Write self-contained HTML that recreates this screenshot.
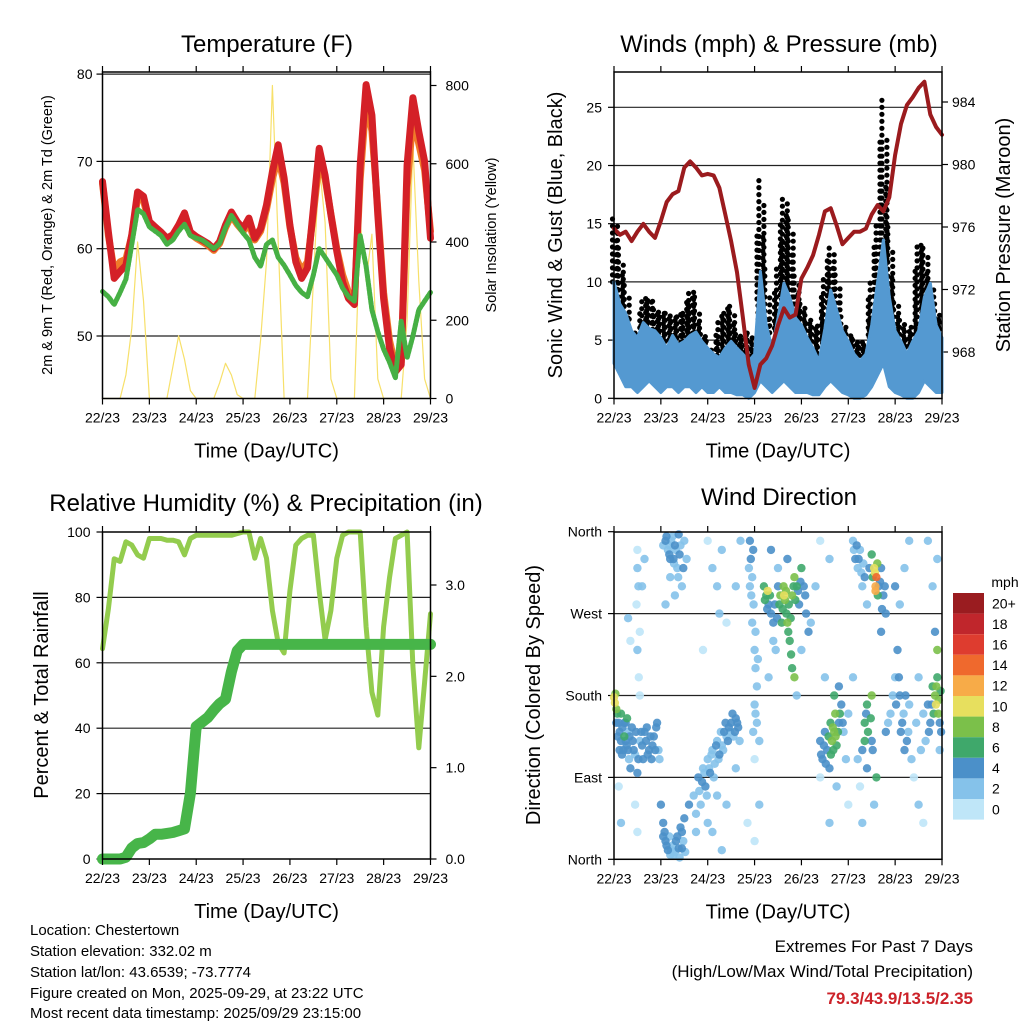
<!DOCTYPE html>
<html><head><meta charset="utf-8"><style>
html,body{margin:0;padding:0;background:#fff;}
svg{display:block;font-family:"Liberation Sans",Arial,sans-serif;}
</style></head><body>
<svg id="chart" width="1024" height="1024" viewBox="0 0 1024 1024" xmlns="http://www.w3.org/2000/svg">
<rect x="0" y="0" width="1024" height="1024" fill="#fff"/>
<g id="g-temp"></g>
<g id="g-wind"></g>
<g id="g-rh"></g>
<g id="g-wd"></g>
<g id="g-cb"></g>
<g font-size="15" fill="#000">
<text x="30" y="935">Location: Chestertown</text>
<text x="30" y="956">Station elevation: 332.02 m</text>
<text x="30" y="977">Station lat/lon: 43.6539; -73.7774</text>
<text x="30" y="998">Figure created on Mon, 2025-09-29, at 23:22 UTC</text>
<text x="30" y="1018">Most recent data timestamp: 2025/09/29 23:15:00</text>
</g>
<g text-anchor="end">
<text x="973" y="952" font-size="17">Extremes For Past 7 Days</text>
<text x="973" y="977" font-size="17">(High/Low/Max Wind/Total Precipitation)</text>
<text x="973" y="1004" font-size="17" font-weight="bold" fill="#cc2229">79.3/43.9/13.5/2.35</text>
</g>
</svg>
<script>
// ---------- DATA (3-hourly, 57 samples across 7 days) ----------
const dayLabels = ["22/23","23/23","24/23","25/23","26/23","27/23","28/23","29/23"];
const temp2m = [67.7,61.9,56.6,57.4,58.1,61.6,66.5,66,63.1,62.5,61.9,61.2,61.6,62.7,64.1,61.9,61.4,61.0,60.6,60.0,60.8,62.7,64.2,63.1,62.3,63.5,61.2,62.3,65.0,68.8,71.9,68.1,62.7,58.5,56.6,57.8,64.6,71.5,68.4,63.9,59.7,56.2,54.3,53.6,69.6,78.8,75.3,63.9,54.3,48.6,45.9,46.7,69.6,77.3,73.4,70,61.2];
const temp9m = [67.5,61.5,57.5,58.5,58.8,61.5,65.8,65.5,62.9,62.3,61.7,61.0,61.4,62.5,63.8,61.7,61.2,60.8,60.4,59.8,60.6,62.4,63.8,62.8,62.0,62.8,61.0,62.0,64.5,68.0,70.5,67.5,62.5,59.0,57.5,58.5,64.0,70.0,68.0,64.0,60.0,57.0,55.0,54.0,68.0,77.0,73.5,64.5,55.0,49.5,46.5,47.0,67.0,75.0,72.0,69.0,62.0];
const dewpoint = [55.1,54.5,53.6,55,56.5,60.5,64.5,64,62.5,62,61.5,60.5,61,62,62.8,61.5,61.2,61,60.5,60,60.6,62.4,63.8,62.8,61.8,61,59,58,60.5,61,59,58.1,57,55.8,55,54.5,57,60,59,58,57,55.5,54.5,54,61.5,58,53,50.5,48.5,47,45.2,51.7,47.5,50,53,54,55];
const solar = [0,0,0,0,60,180,400,250,0,0,0,0,80,160,100,20,0,0,0,0,40,90,60,10,0,0,0,150,350,800,400,0,0,0,0,0,300,600,450,50,0,0,0,0,450,300,420,50,0,0,0,0,200,650,300,50,0];
const tempTicks = [50,60,70,80];
const solarTicks = [0,200,400,600,800];

const windHigh = [10.0,8.1,7.3,5.8,5.2,6.5,6.0,5.8,5.2,4.3,5.4,4.6,4.9,5.4,5.7,4.9,4.3,3.8,3.5,4.3,4.9,4.3,3.8,3.2,3.8,10.9,6.3,4.3,6.9,9.9,8.7,6.9,6.3,5.2,4.3,3.2,6.0,9.3,7.6,5.8,4.9,3.8,3.2,3.8,6.3,10.0,13.6,8.7,5.8,4.9,3.8,4.9,5.8,8.7,9.9,6.3,5.2];
const windLow = [3,2,1,1,0.5,1,1.5,1,0.5,1,1,0.5,1,1,0.5,1,0.5,0.5,1,0.5,0.5,0.3,0.3,0,0.5,1.5,1,0.5,1,1.5,1,0.5,0.5,0.5,0.3,0.3,1,1.5,1,0.5,0.3,0,0,0.3,1,2,3,1,0.5,0.3,0,0,0.5,1.5,1,0.5,0.5];
const gustMax = [15.7,12.9,10.0,5.8,5.5,8.7,8.7,8.1,7.3,7.3,6.9,7.3,7.6,9.3,8.7,5.8,4.9,4.3,6.6,7.3,8.4,5.8,5.2,5.8,4.3,19.2,11.5,4.6,11.5,17.4,15.7,11.0,8.4,6.9,6.3,6.3,10.3,13.2,11.0,7.0,5.2,5.5,4.9,4.9,10.3,14.9,26.2,14.9,8.7,6.9,5.5,6.3,13.2,13.2,10.3,8.4,6.3];
const pressure = [975.9,975.5,975.7,975.1,975.7,976.2,975.7,975.3,976.4,977.6,978.1,978.3,979.8,980.2,979.8,979.3,979.4,979.3,978.5,976.8,975.1,973.1,970.2,967.2,965.7,967.2,967.6,968.4,969.7,970.8,970.2,970.4,972.7,973.4,974.2,975.5,977.0,977.2,976.1,974.9,975.3,975.7,975.7,975.9,976.8,977.4,977.0,977.9,980.6,982.6,983.8,984.3,984.9,985.3,983.2,982.4,981.9];
const windTicks = [0,5,10,15,20,25];
const pressTicks = [968,972,976,980,984];

const humidity = [64.3,76.5,91.8,91,97,96,93,92,98,98,98,97.5,97.5,97,93,98,99,99,99,99,99,99,99,99.5,100,100,92,98,92,76,66,63,82,96,98,99,99,82,67,76,92,99,100,100,100,71,51,44,71,86,98,99,100,59,34,54,75];
const precip = [0,0,0,0,0.02,0.12,0.17,0.18,0.22,0.27,0.27,0.28,0.29,0.31,0.33,0.72,1.45,1.5,1.55,1.63,1.7,1.75,2.05,2.28,2.35,2.35,2.35,2.35,2.35,2.35,2.35,2.35,2.35,2.35,2.35,2.35,2.35,2.35,2.35,2.35,2.35,2.35,2.35,2.35,2.35,2.35,2.35,2.35,2.35,2.35,2.35,2.35,2.35,2.35,2.35,2.35,2.35];
const rhTicks = [0,20,40,60,80,100];
const precipTicks = [0,1,2,3];

const dirTicks = [0,90,180,270,360];
const dirLabels = ["North","East","South","West","North"];
const speedBins = ["0","2","4","6","8","10","12","14","16","18","20+"];
const speedColors = ["#bfe6f8","#85c2ea","#4b90c9","#3fa86b","#7bc04a","#e7df5e","#f7ab48","#ef692d","#de3c2f","#c0262c","#9a1c20"];
// [day, direction deg, speed mph]
const wdObs = [
[0.0,178,9],[0.02,172,10],[0.03,182,8],[0.05,165,7],[0.07,160,5],[0.1,150,4],[0.12,140,4],[0.15,130,3],[0.18,145,4],[0.2,120,3],[0.22,135,5],[0.25,150,4],[0.27,125,3],[0.3,140,2],[0.32,110,2],[0.35,100,4],[0.4,130,3],[0.45,115,2],[0.5,95,4],[0.55,130,2],[0.6,125,3],[0.65,140,4],[0.7,145,3],[0.75,120,4],[0.8,110,3],[0.85,135,4],[0.9,145,4],[0.95,120,2],[0.15,160,6],[0.28,155,6],
[0.05,150,4],[0.08,135,4],[0.12,120,3],[0.17,115,4],[0.22,150,3],[0.25,130,4],[0.3,120,4],[0.33,135,3],[0.38,145,4],[0.42,120,4],[0.47,140,3],[0.52,110,3],[0.58,140,4],[0.62,110,4],[0.68,130,3],[0.72,115,4],[0.78,135,4],[0.82,125,4],[0.88,120,3],[0.92,150,4],[0.97,110,2],
[0.5,340,0],[0.5,320,1],[0.52,300,1],[0.48,280,0],[0.55,250,0],[0.5,230,1],[0.53,200,0],[0.55,180,0],[0.6,300,2],[0.65,330,2],[0.1,80,0],[0.15,40,1],[0.45,60,0],[0.5,30,0],[0.3,265,1],[0.35,240,0],
[1.1,350,3],[1.15,340,2],[1.2,330,4],[1.25,355,2],[1.3,345,3],[1.35,320,2],[1.4,335,3],[1.45,300,2],[1.2,310,2],[1.3,290,1],[1.5,350,1],[1.55,330,2],[1.1,280,1],[1.38,357,4],[1.18,345,2],[1.28,325,2],
[1.05,345,2],[1.12,355,3],[1.18,335,4],[1.22,350,2],[1.27,330,3],[1.32,340,2],[1.37,310,2],[1.42,345,2],[1.48,320,3],
[1.0,60,4],[1.05,40,4],[1.1,20,4],[1.15,10,3],[1.2,5,2],[1.25,15,2],[1.3,8,2],[1.35,25,4],[1.45,30,4],[1.5,45,4],[1.4,2,2],[1.6,60,3],[1.05,25,4],[1.45,12,4],
[1.08,30,4],[1.12,15,3],[1.18,25,2],[1.22,10,2],[1.27,5,2],[1.32,20,4],[1.38,12,4],[1.42,35,3],[1.48,20,2],[1.52,8,2],
[1.7,70,2],[1.8,90,3],[1.85,60,2],[1.9,100,2],[1.95,80,3],[2.0,110,2],[2.05,95,3],[2.1,120,2],[2.15,105,2],[2.2,130,2],[2.25,115,3],[2.3,125,2],[2.35,140,3],[2.4,135,2],[2.45,145,4],[2.5,150,3],[2.55,135,2],[2.6,155,4],[2.65,145,3],[1.75,30,1],[2.0,40,1],[2.2,70,2],[2.4,60,2],[2.1,30,1],[2.6,100,1],[2.3,10,1],
[1.75,50,2],[1.82,75,2],[1.88,85,3],[1.93,95,2],[1.98,70,2],[2.03,100,2],[2.08,115,2],[2.13,90,2],[2.18,125,3],[2.23,110,2],[2.28,140,2],[2.33,120,2],[2.38,150,3],[2.43,130,3],[2.48,140,2],[2.53,160,3],[2.58,140,3],[2.63,150,4],[2.68,130,2],
[2.0,350,0],[2.1,320,1],[2.2,300,2],[2.25,270,1],[2.3,340,1],[2.4,260,0],[1.9,230,0],[2.7,350,1],[2.6,300,1],
[2.9,350,3],[2.92,330,3],[2.95,310,2],[2.9,300,2],[2.98,280,2],[2.95,260,1],[3.0,230,2],[3.02,210,2],[3.05,190,1],[3.0,170,2],[3.05,150,1],[3.1,130,1],[3.0,110,0],[3.1,60,1],[3.0,20,0],[2.85,40,0],
[2.88,320,2],[2.93,290,2],[2.97,340,3],[3.02,250,1],[3.07,220,2],[3.02,160,1],[2.97,140,1],
[3.2,300,6],[3.25,290,6],[3.28,295,9],[3.3,280,4],[3.35,270,4],[3.4,260,3],[3.4,240,2],[3.45,230,2],[3.5,300,4],[3.55,290,7],[3.6,275,6],[3.62,300,8],[3.65,285,8],[3.68,270,6],[3.7,260,7],[3.72,250,6],[3.75,240,6],[3.78,225,6],[3.8,210,6],[3.8,290,8],[3.85,310,7],[3.9,300,5],[3.95,280,4],[4.0,320,5],[4.05,300,4],[4.1,270,3],[4.15,250,3],[4.2,260,2],[3.35,340,3],[3.5,320,2],[3.7,330,4],[3.85,200,7],[3.9,180,1],[4.0,230,1],[3.3,200,2],
[3.22,285,5],[3.27,275,4],[3.33,290,6],[3.43,280,3],[3.48,265,3],[3.53,280,5],[3.58,260,5],[3.63,290,9],[3.67,295,7],[3.73,280,6],[3.77,265,5],[3.83,300,6],[3.87,285,5],[3.93,295,4],[3.98,305,3],[4.08,290,3],
[4.4,130,4],[4.45,110,3],[4.5,140,4],[4.55,120,4],[4.6,100,4],[4.62,150,6],[4.65,130,7],[4.7,140,7],[4.72,160,8],[4.75,125,5],[4.8,150,4],[4.85,170,4],[4.9,140,2],[4.95,110,2],[5.0,160,2],[4.7,180,6],[4.8,190,3],[4.5,200,1],[4.75,80,1],[5.0,60,0],[4.6,40,1],[4.4,90,0],[4.6,330,2],[4.3,300,1],[4.4,350,0],
[4.42,115,3],[4.48,125,4],[4.52,105,4],[4.58,135,5],[4.63,115,6],[4.67,145,7],[4.68,120,6],[4.73,135,8],[4.78,140,5],[4.82,160,5],[4.88,150,3],
[5.1,350,2],[5.15,330,3],[5.2,320,2],[5.25,340,2],[5.3,300,2],[5.35,310,3],[5.4,280,1],[5.5,335,6],[5.55,320,9],[5.57,315,10],[5.58,300,12],[5.6,310,13],[5.58,295,12],[5.62,325,8],[5.65,300,4],[5.7,320,4],[5.75,290,4],[5.8,270,3],[5.7,250,4],[5.35,150,6],[5.35,130,5],[5.4,170,6],[5.3,120,4],[5.4,100,4],[5.5,180,7],[5.5,130,4],[5.6,90,5],[5.55,60,2],[5.3,40,1],[5.2,110,2],[5.1,200,1],[5.25,80,0],
[5.12,340,2],[5.18,345,3],[5.22,330,3],[5.28,315,2],[5.32,325,2],[5.45,320,4],[5.52,310,5],[5.63,290,6],[5.68,305,4],[5.72,275,3],[5.78,300,3],[5.38,160,4],[5.42,140,5],[5.48,155,6],[5.52,120,4],
[5.8,140,3],[5.9,160,2],[6.0,200,2],[6.05,230,3],[6.1,180,4],[6.15,150,3],[6.2,120,4],[6.25,130,3],[6.3,170,2],[6.35,110,1],[6.4,90,0],[6.5,200,1],[6.5,60,1],[6.6,40,0],[6.65,130,2],[6.7,170,3],[6.75,150,4],[6.8,190,6],[6.85,180,7],[6.87,170,9],[6.9,200,6],[6.92,160,8],[6.95,150,3],[6.9,230,7],[6.95,120,2],[6.85,250,4],[6.8,300,2],[6.7,350,1],[6.3,350,1],[6.2,320,2],[6.0,300,3],[6.1,280,1],[6.9,330,1],
[5.85,150,2],[5.95,180,2],[6.02,170,3],[6.08,200,3],[6.12,140,3],[6.18,160,2],[6.22,180,4],[6.28,140,2],[6.45,150,1],[6.55,120,2],[6.6,160,2],[6.72,140,3],[6.78,170,4],[6.82,160,6],[6.88,190,8],[6.93,175,7],[6.97,185,6],[6.98,140,3]
];

// ---------- HELPERS ----------
const NS = "http://www.w3.org/2000/svg";
function mk(parent, tag, attrs, text) {
  const e = document.createElementNS(NS, tag);
  for (const k in attrs) e.setAttribute(k, attrs[k]);
  if (text !== undefined) e.textContent = text;
  parent.appendChild(e);
  return e;
}
function lin(d0, d1, r0, r1) { return v => r0 + (v - d0) * (r1 - r0) / (d1 - d0); }
const N = temp2m.length;
function tOf(i) { return i * 7 / (N - 1); }

function frame(g, L, R, T, B, xs) {
  const box = mk(g, "rect", {x:L, y:T, width:R-L, height:B-T, fill:"none", stroke:"#000", "stroke-width":1.5});
  
  
  dayLabels.forEach((lab, d) => {
    const x = xs(d);
    const tk = mk(g, "line", {x1:x, x2:x, y1:B, y2:B+6, stroke:"#000", "stroke-width":1.2});
    
    
    const tt = mk(g, "line", {x1:x, x2:x, y1:T, y2:T-6, stroke:"#000", "stroke-width":1.2});
    
    
    const tl = mk(g, "text", {x:x, y:B+24, "font-size":14, "text-anchor":"middle"}, lab);
    
    
  });
  const xt = mk(g, "text", {x:(L+R)/2, y:B+59, "font-size":20, "text-anchor":"middle"}, "Time (Day/UTC)");
  
  
}
function hgrid(g, L, R, y) {
  const l = mk(g, "line", {x1:L, x2:R, y1:y, y2:y, stroke:"#222", "stroke-width":1.2});
  
  
}
function yTick(g, x, y, side, label, anchorX) {
  const t = mk(g, "line", {x1:x, x2:x + (side < 0 ? -6 : 6), y1:y, y2:y, stroke:"#000", "stroke-width":1.2});
  
  
  const tx = mk(g, "text", {x:anchorX, y:y+5, "font-size":14, "text-anchor": side < 0 ? "end" : "start"}, label);
  
  
}
function vTitle(g, x, y, size, txt, name) {
  const t = mk(g, "text", {x:x, y:y, "font-size":size, "text-anchor":"middle", transform:`rotate(-90 ${x} ${y})`}, txt);
  
  
}
function title(g, x, y, txt) {
  const t = mk(g, "text", {x:x, y:y, "font-size":24, "text-anchor":"middle"}, txt);
  
  
}
function polyline(g, arr, xs, ys, attrs, name) {
  const pts = arr.map((v, i) => xs(tOf(i)).toFixed(1) + "," + ys(v).toFixed(1)).join(" ");
  const p = mk(g, "polyline", Object.assign({points:pts, fill:"none", "stroke-linejoin":"round", "stroke-linecap":"round"}, attrs));
  
  
  return p;
}

// ---------- TEMPERATURE ----------
(function(){
  const g = document.getElementById("g-temp");
  const L=102.5, R=430.5, T=72, B=398.5;
  const xs = lin(0,7,L,R), yT = lin(50,60,336,248.7), yS = lin(0,800,398.5,85.5);
  title(g, 267, 52, "Temperature (F)");
  tempTicks.forEach(v => { hgrid(g,L,R,yT(v)); yTick(g,L,yT(v),-1,String(v),L-10); });
  solarTicks.forEach(v => yTick(g,R,yS(v),1,String(v),R+15));
  polyline(g, solar, xs, yS, {stroke:"#f7e06a","stroke-width":1.2}, "solar-line");
  polyline(g, temp9m, xs, yT, {stroke:"#f07a2a","stroke-width":7}, "temp-9m-line");
  polyline(g, temp2m, xs, yT, {stroke:"#d42027","stroke-width":7}, "temp-2m-line");
  polyline(g, dewpoint, xs, yT, {stroke:"#46b044","stroke-width":5,"stroke-dasharray":"3 1.5"}, "dewpoint-line");
  frame(g,L,R,T,B,xs);
  vTitle(g, 52, 235, 14.5, "2m & 9m T (Red, Orange) & 2m Td (Green)", "y-axis-title-left");
  vTitle(g, 496, 235, 14.5, "Solar Insolation (Yellow)", "y-axis-title-right");
})();

// ---------- WINDS ----------
(function(){
  const g = document.getElementById("g-wind");
  const L=614, R=942, T=72, B=398.5;
  const xs = lin(0,7,L,R), yW = lin(0,25,398.3,107.3), yP = lin(968,984,352,102);
  title(g, 779, 52, "Winds (mph) & Pressure (mb)");
  windTicks.forEach(v => { if (v>0) hgrid(g,L,R,yW(v)); yTick(g,L,yW(v),-1,String(v),L-12); });
  pressTicks.forEach(v => yTick(g,R,yP(v),1,String(v),R+10));
  // gust dots
  for (let i=0;i<N-1;i++){
    for (let k=0;k<3;k++){
      const f=k/3, t=tOf(i)+f*(7/(N-1));
      const hi = windHigh[i]+(windHigh[i+1]-windHigh[i])*f;
      const gm = gustMax[i]+(gustMax[i+1]-gustMax[i])*f;
      const off = (k%2) ? 1.5 : -1.5;
      for (let v=hi; v<=gm; v+=0.6){
        const c = mk(g,"circle",{cx:(xs(t)+off).toFixed(1), cy:yW(v).toFixed(1), r:2.6, fill:"#000"});
        
        
      }
    }
  }
  // wind band
  let top = windHigh.map((v,i)=>xs(tOf(i)).toFixed(1)+","+yW(v).toFixed(1));
  let bot = windLow.map((v,i)=>xs(tOf(i)).toFixed(1)+","+yW(v).toFixed(1)).reverse();
  const band = mk(g,"polygon",{points:top.concat(bot).join(" "), fill:"#5499d1", stroke:"#5499d1","stroke-width":3,"stroke-linejoin":"round"});
  
  
  polyline(g, pressure, xs, yP, {stroke:"#9b1b1e","stroke-width":4}, "pressure-line");
  frame(g,L,R,T,B,xs);
  vTitle(g, 562, 235, 20, "Sonic Wind & Gust (Blue, Black)", "y-axis-title-left");
  vTitle(g, 1010, 235, 20, "Station Pressure (Maroon)", "y-axis-title-right");
})();

// ---------- HUMIDITY ----------
(function(){
  const g = document.getElementById("g-rh");
  const L=102.5, R=430.5, T=532, B=859;
  const xs = lin(0,7,L,R), yR = lin(0,100,859,532), yPr = lin(0,3,859,585);
  title(g, 266, 511, "Relative Humidity (%) & Precipitation (in)");
  rhTicks.forEach(v => { if (v>0 && v<100) hgrid(g,L,R,yR(v)); yTick(g,L,yR(v),-1,String(v),L-12); });
  precipTicks.forEach(v => yTick(g,R,yPr(v),1,v.toFixed(1),R+15));
  polyline(g, humidity, xs, yR, {stroke:"#93cc4e","stroke-width":5}, "humidity-line");
  polyline(g, precip, xs, yPr, {stroke:"#47b549","stroke-width":11}, "precip-line");
  frame(g,L,R,T,B,xs);
  vTitle(g, 48, 695, 20, "Percent & Total Rainfall", "y-axis-title-left");
})();

// ---------- WIND DIRECTION ----------
(function(){
  const g = document.getElementById("g-wd");
  const L=614, R=942, T=532, B=859.3;
  const xs = lin(0,7,L,R), yD = lin(0,360,859.3,531.7);
  title(g, 779, 505, "Wind Direction");
  dirTicks.forEach((v,i) => { if (v>0 && v<360) hgrid(g,L,R,yD(v)); yTick(g,L,yD(v),-1,dirLabels[i],L-12); });
  const order = wdObs.slice().sort((a,b)=>a[2]-b[2]);
  order.forEach(o => {
    const bin = Math.min(10, Math.max(0, Math.round(o[2]/2)));
    const c = mk(g,"circle",{cx:xs(o[0]).toFixed(1), cy:yD(o[1]).toFixed(1), r:4.2, fill:speedColors[bin], "fill-opacity":0.9});
    
    
  });
  frame(g,L,R,T,B,xs);
  vTitle(g, 540, 695, 20, "Direction (Colored By Speed)", "y-axis-title-left");
})();

// ---------- COLORBAR ----------
(function(){
  const g = document.getElementById("g-cb");
  const x0=953, w=31, y0=593, h=20.6;
  const u = mk(g,"text",{x:1005,y:587,"font-size":14,"text-anchor":"middle"},"mph");
  
  
  for (let i=0;i<speedBins.length;i++){
    const idx = speedBins.length-1-i;
    const r = mk(g,"rect",{x:x0,y:y0+i*h,width:w,height:h,fill:speedColors[idx]});
    
    
    const t = mk(g,"text",{x:992,y:y0+i*h+h/2+5,"font-size":14},speedBins[idx]);
    
    
  }
})();
</script>
</body></html>
